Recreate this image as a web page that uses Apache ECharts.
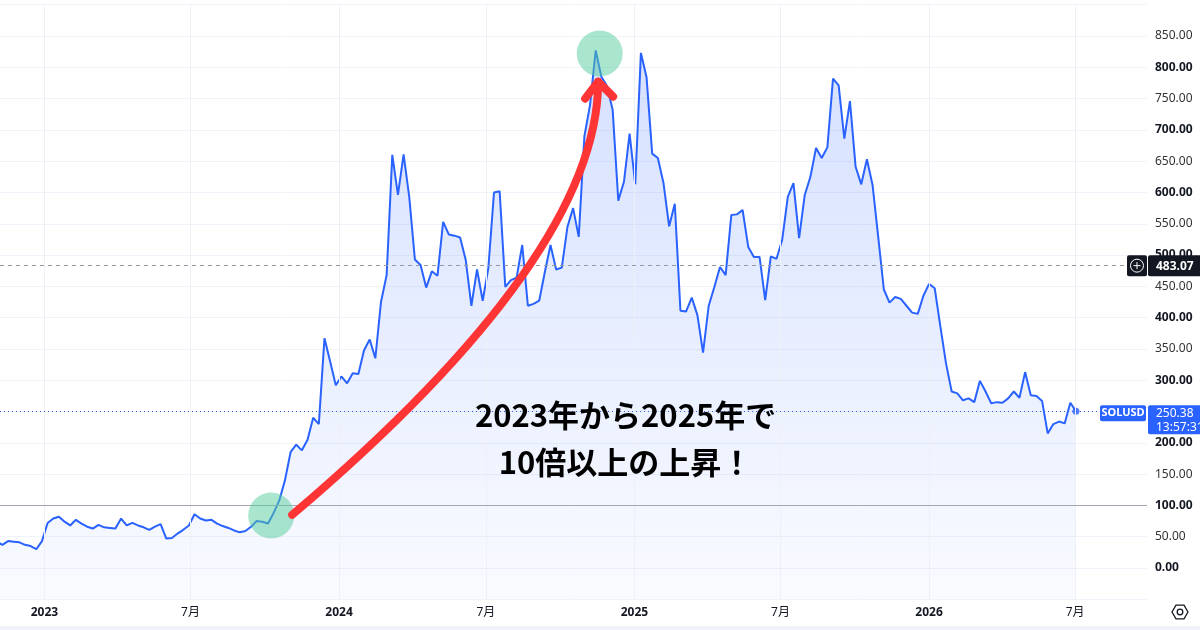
<!DOCTYPE html>
<html><head><meta charset="utf-8">
<script src="https://cdn.jsdelivr.net/npm/echarts@6/dist/echarts.min.js"></script>
<style>html,body{margin:0;padding:0;background:#fff}#c{width:1200px;height:630px}</style>
</head><body><div id="c"></div>
<script>
// ---- data (weekly SOLUSD closes) ----
const symbolName = 'SOLUSD';
const firstWeek = '2022-11-03';
const prices = [
  42,37,43,42,41,37,35,30,43,72,
  79,82,74,68,77,71,66,63,69,65,
  64,63,79,68,72,68,65,61,66,70,
  47,48,55,61,68,86,79,76,77,71,
  67,64,60,57,59,66,75,74,71,88,
  108,140,185,197,188,205,240,230,367,330,
  292,306,295,311,310,348,365,335,425,468,
  660,596,661,593,493,484,448,474,467,553,
  533,531,528,492,419,477,427,479,600,602,
  449,460,464,516,419,422,427,473,516,477,
  480,545,575,529,690,740,827,785,770,732,
  587,617,694,613,823,784,662,655,615,546,
  582,411,410,432,404,344,419,449,481,468,
  564,565,572,513,497,497,428,498,494,524,
  593,615,527,596,625,671,655,672,782,771,
  686,746,641,613,653,612,529,445,424,433,
  430,419,408,406,435,454,447,386,327,282,
  279,268,271,265,299,282,263,265,264,271,
  282,272,313,276,275,267,215,230,234,231,
  264,250.38
];
const xLabelDates = ['2023-01-01','2023-07-01','2024-01-01','2024-07-01','2025-01-01','2025-07-01','2026-01-01','2026-07-01'];
const xMin = '2022-11-07';
const xMax = '2026-09-28';
const yMin = -50, yMax = 900, yStep = 50, yLabelMax = 850;
const refPrice = 483.07;
const hLinePrice = 100;
const countdown = '13:57:31';
const noteLines = ['2023年から2025年で', '10倍以上の上昇！'];
// annotation anchors in data space
const circleA = ['2023-10-09', 84];
const circleB = ['2024-11-19', 822];
const arrowStart = ['2023-11-04', 85];
const arrowCtrl = ['2024-11-17', 500];
const arrowEnd = ['2024-11-17', 777];
const noteAnchor = ['2024-12-21', 244, 169];

// ---- build ----
const DAY = 864e5;
const t = s => Date.parse(s);
const dates = prices.map((_, i) => t(firstWeek) + i * 7 * DAY);
const seriesData = dates.map((d, i) => [d, prices[i]]);
const last = seriesData[seriesData.length - 1];
const FONT = "'Noto Sans', 'Noto Sans CJK JP', sans-serif";
const TXT = '#131722';

const chart = echarts.init(document.getElementById('c'), null, {renderer: 'canvas'});
const option = {
  animation: false,
  backgroundColor: '#ffffff',
  grid: {left: 0, right: 53, top: 4.7, bottom: 30.7, containLabel: false},
  xAxis: {
    type: 'value', min: t(xMin), max: t(xMax), scale: true,
    axisLine: {show: false}, axisTick: {show: false}, splitLine: {show: false},
    axisLabel: {
      customValues: xLabelDates.map(t),
      margin: 7, fontFamily: FONT, fontSize: 12, color: TXT,
      formatter: v => { const d = new Date(v); return d.getUTCMonth() === 0 ? '{b|' + d.getUTCFullYear() + '}' : '{n|' + (d.getUTCMonth() + 1) + '月}'; },
      rich: {b: {fontWeight: 'bold', fontSize: 12, color: TXT, fontFamily: FONT}, n: {fontSize: 12, color: TXT, fontFamily: FONT}}
    }
  },
  yAxis: {
    type: 'value', position: 'right', min: yMin, max: yMax, interval: yStep,
    axisLine: {show: false}, axisTick: {show: false},
    splitLine: {show: true, lineStyle: {color: '#f0f3fa', width: 1}},
    axisLabel: {
      margin: 8, fontFamily: FONT, fontSize: 12, color: TXT,
      formatter: v => (v < 0 || v > yLabelMax) ? '' : (v % 100 === 0 ? '{b|' + v.toFixed(2) + '}' : '{n|' + v.toFixed(2) + '}'),
      rich: {b: {fontWeight: 'bold', fontSize: 12, color: TXT, fontFamily: FONT}, n: {fontSize: 12, color: '#333', fontFamily: FONT}}
    }
  },
  series: [
    {
      type: 'line', data: seriesData, showSymbol: false, symbol: 'none', z: 3,
      lineStyle: {color: '#2962ff', width: 2},
      areaStyle: {origin: 'start', color: new echarts.graphic.LinearGradient(0, 0, 0, 1, [
        {offset: 0, color: 'rgba(41,98,255,0.28)'},
        {offset: 1, color: 'rgba(41,98,255,0.04)'}
      ])},
      markLine: {
        silent: true, symbol: 'none', label: {show: false},
        data: [
          ...xLabelDates.map(d => ({xAxis: t(d), lineStyle: {color: '#eef0f5', width: 1, type: 'solid'}})),
          {yAxis: hLinePrice, lineStyle: {color: '#a3a6af', width: 1, type: 'solid'}},
          {yAxis: refPrice, lineStyle: {color: '#9598a1', width: 1, type: [4, 4]}},
          {yAxis: last[1], lineStyle: {color: '#2962ff', width: 1, type: [1, 3]}}
        ]
      }
    },
    {
      type: 'scatter', data: [last], symbolSize: 7, z: 4,
      itemStyle: {color: '#2962ff'}, silent: true
    }
  ]
};
chart.setOption(option);

const px = p => chart.convertToPixel({gridIndex: 0}, [t(p[0]), p[1]]);
const py = v => chart.convertToPixel({yAxisIndex: 0}, v);
const cA = px(circleA), cB = px(circleB);
const aS = px(arrowStart), aC = px(arrowCtrl), aE = px(arrowEnd);
const n1 = px([noteAnchor[0], noteAnchor[1]]), n2 = px([noteAnchor[0], noteAnchor[2]]);
const refY = py(refPrice), lastY = py(last[1]);
const axL = 1200 - 53;
const RED = '#ff3434';
const hex = [];
for (let i = 0; i < 6; i++) { const a = Math.PI / 3 * i; hex.push([1180 + 8 * Math.cos(a), 612 + 8 * Math.sin(a)]); }

chart.setOption({
  graphic: [
    {type: 'circle', shape: {cx: cA[0], cy: cA[1], r: 23}, style: {fill: 'rgba(85,205,155,0.5)'}, z: 50},
    {type: 'circle', shape: {cx: cB[0], cy: cB[1], r: 23}, style: {fill: 'rgba(85,205,155,0.5)'}, z: 50},
    {type: 'bezierCurve', shape: {x1: aS[0], y1: aS[1], x2: aE[0], y2: aE[1], cpx1: aC[0], cpy1: aC[1]},
      style: {stroke: RED, lineWidth: 8, fill: null, lineCap: 'round'}, z: 60},
    {type: 'polyline', shape: {points: [[aE[0] - 13, aE[1] + 17], [aE[0], aE[1]], [aE[0] + 15, aE[1] + 15]]},
      style: {stroke: RED, lineWidth: 8, fill: null, lineCap: 'round', lineJoin: 'round'}, z: 60},
    {type: 'text', x: n1[0], y: n1[1], z: 70, style: {text: noteLines[0], fontFamily: "'Noto Sans CJK JP'", fontWeight: 'bold', fontSize: 31, fill: '#000', align: 'center', verticalAlign: 'middle'}},
    {type: 'text', x: n2[0], y: n2[1], z: 70, style: {text: noteLines[1], fontFamily: "'Noto Sans CJK JP'", fontWeight: 'bold', fontSize: 31, fill: '#000', align: 'center', verticalAlign: 'middle'}},
    // reference price tag
    {type: 'rect', shape: {x: axL - 20, y: refY - 10.5, width: 20, height: 21, r: 2}, style: {fill: TXT}, z: 80},
    {type: 'circle', shape: {cx: axL - 10, cy: refY, r: 6.5}, style: {stroke: '#fff', lineWidth: 1, fill: null}, z: 81},
    {type: 'line', shape: {x1: axL - 13.5, y1: refY, x2: axL - 6.5, y2: refY}, style: {stroke: '#fff', lineWidth: 1}, z: 81},
    {type: 'line', shape: {x1: axL - 10, y1: refY - 3.5, x2: axL - 10, y2: refY + 3.5}, style: {stroke: '#fff', lineWidth: 1}, z: 81},
    {type: 'rect', shape: {x: axL + 1, y: refY - 10.5, width: 60, height: 21, r: 2}, style: {fill: TXT}, z: 80},
    {type: 'text', x: axL + 9, y: refY + 1, z: 81, style: {text: refPrice.toFixed(2), fontFamily: FONT, fontWeight: 'bold', fontSize: 12, fill: '#fff', align: 'left', verticalAlign: 'middle'}},
    // last price tag
    {type: 'rect', shape: {x: axL - 47, y: lastY - 6, width: 46, height: 16, r: 2}, style: {fill: '#2962ff'}, z: 80},
    {type: 'text', x: axL - 24, y: lastY + 2, z: 81, style: {text: symbolName, fontFamily: FONT, fontWeight: 'bold', fontSize: 11, fill: '#fff', align: 'center', verticalAlign: 'middle'}},
    {type: 'rect', shape: {x: axL + 1, y: lastY - 6, width: 60, height: 29, r: 2}, style: {fill: '#2962ff'}, z: 80},
    {type: 'text', x: axL + 9, y: lastY + 2, z: 81, style: {text: last[1].toFixed(2), fontFamily: FONT, fontSize: 12, fill: '#fff', align: 'left', verticalAlign: 'middle'}},
    {type: 'text', x: axL + 9, y: lastY + 16, z: 81, style: {text: countdown, fontFamily: FONT, fontSize: 12, fill: '#fff', align: 'left', verticalAlign: 'middle'}},
    // settings icon + bottom strip
    {type: 'polygon', shape: {points: hex}, style: {stroke: TXT, lineWidth: 1.3, fill: null}, z: 80},
    {type: 'circle', shape: {cx: 1180, cy: 612, r: 2.8}, style: {stroke: TXT, lineWidth: 1.3, fill: null}, z: 80},
    {type: 'rect', shape: {x: 0, y: 626, width: 1200, height: 4}, style: {fill: '#f0f3fa'}, z: 80}
  ]
});
</script></body></html>
